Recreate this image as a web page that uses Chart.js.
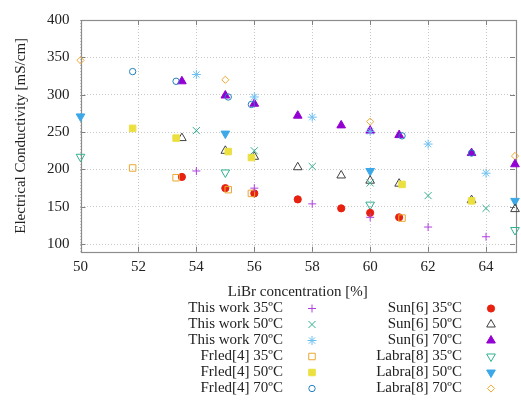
<!DOCTYPE html>
<html>
<head>
<meta charset="utf-8">
<script src="https://cdn.jsdelivr.net/npm/chart.js@4"></script>
<style>
html,body{margin:0;padding:0;background:#fff;}
#wrap{width:521px;height:401px;}
</style>
</head>
<body>
<div id="wrap"><canvas id="c" width="521" height="401"></canvas></div>
<script>
// ---- data ----
const xTicks = [50, 52, 54, 56, 58, 60, 62, 64];
const yTicks = [100, 150, 200, 250, 300, 350, 400];

const thisWork35 = [[54,198],[56,175],[58,154],[60,136],[62,123],[64,110]];
const thisWork50 = [[54,252],[56,225],[58,204],[60,182],[62,165],[64,148]];
const thisWork70 = [[54,327],[56,297],[58,270],[60,251],[62,234],[64,195]];
const frled35 = [[51.8,202],[53.3,189],[55.1,173],[55.9,168],[61.1,135]];
const frled50 = [[51.8,255],[53.3,242],[55.1,224],[55.9,216],[61.1,180],[63.5,158]];
const frled70 = [[51.8,331],[53.3,318],[55.1,297],[55.9,287],[61.1,245],[63.5,222]];
const sun35 = [[53.5,190],[55,175],[56,168],[57.5,160],[59,148],[60,142],[61,136]];
const sun50 = [[53.5,242],[55,225],[56,217],[57.5,203],[59,192],[60,185],[61,181],[63.5,159],[65,147]];
const sun70 = [[53.5,318],[55,299],[56,288],[57.5,272],[59,259],[60,252],[61,246],[63.5,222],[65,207]];
const labra35 = [[50,217],[55,196],[60,153],[65,119]];
const labra50 = [[50,271],[55,248],[60,198],[65,158]];
const labra70 = [[50,346],[55,320],[60,264],[65,218]];

const seriesLabels = [
  'This work 35ºC','This work 50ºC','This work 70ºC',
  'Frled[4] 35ºC','Frled[4] 50ºC','Frled[4] 70ºC',
  'Sun[6] 35ºC','Sun[6] 50ºC','Sun[6] 70ºC',
  'Labra[8] 35ºC','Labra[8] 50ºC','Labra[8] 70ºC'
];
const seriesData = [thisWork35, thisWork50, thisWork70, frled35, frled50, frled70,
  sun35, sun50, sun70, labra35, labra50, labra70];

// ---- styles ----
const styles = [
  {c:'#b040e0', s:'cross', r:4, fill:false},
  {c:'#30b090', s:'crossRot', r:5, fill:false},
  {c:'#6cc0f0', s:'star', r:4.5, fill:false},
  {c:'#eca830', s:'rect', r:4.6, fill:false},
  {c:'#ece040', s:'rect', r:4.6, fill:true},
  {c:'#2080c0', s:'circle', r:3.2, fill:false},
  {c:'#e82010', s:'circle', r:3.6, fill:true},
  {c:'#404040', s:'triangle', r:5, fill:false},
  {c:'#9400d3', s:'triangle', r:5, fill:true},
  {c:'#30b090', s:'triangle', r:5, fill:false, rot:180},
  {c:'#3ca8e8', s:'triangle', r:5, fill:true, rot:180},
  {c:'#eca830', s:'rectRot', r:3.6, fill:false}
];

const datasets = seriesData.map((d, i) => {
  const st = styles[i];
  return {
    label: seriesLabels[i],
    data: d.map(p => ({x: p[0], y: p[1]})),
    pointStyle: st.s,
    pointRadius: st.r,
    pointHoverRadius: st.r,
    pointRotation: st.rot || 0,
    borderColor: st.c,
    backgroundColor: st.fill ? st.c : 'rgba(0,0,0,0)',
    borderWidth: 1,
    showLine: false,
    clip: false
  };
});

const FONT = 'Liberation Serif';

const framePlugin = {
  id: 'frame',
  beforeDatasetsDraw(chart) {
    const {ctx, chartArea: a, scales} = chart;
    ctx.save();
    ctx.strokeStyle = '#808080';
    ctx.lineWidth = 1;
    ctx.beginPath();
    // inward tick marks
    xTicks.forEach(v => {
      const x = Math.round(scales.x.getPixelForValue(v)) + 0.5;
      ctx.moveTo(x, a.bottom); ctx.lineTo(x, a.bottom - 5);
      ctx.moveTo(x, a.top); ctx.lineTo(x, a.top + 5);
    });
    yTicks.forEach(v => {
      const y = Math.round(scales.y.getPixelForValue(v)) + 0.5;
      ctx.moveTo(a.left, y); ctx.lineTo(a.left + 5, y);
      ctx.moveTo(a.right, y); ctx.lineTo(a.right - 5, y);
    });
    ctx.stroke();
    ctx.strokeStyle = '#8c8c8c';
    ctx.lineWidth = 1.2;
    ctx.strokeRect(Math.round(a.left) + 0.5, Math.round(a.top) + 0.5,
      Math.round(a.right - a.left), Math.round(a.bottom - a.top));
    ctx.restore();
  },
  afterDraw(chart) {
    const {ctx} = chart;
    ctx.save();
    ctx.font = '15px "' + FONT + '"';
    ctx.fillStyle = '#222';
    ctx.textAlign = 'right';
    ctx.textBaseline = 'middle';
    const colTextX = [283, 462];
    const colMarkX = [312, 491];
    const rowY0 = 308.5, rowDy = 16;
    chart.data.datasets.forEach((ds, i) => {
      const col = Math.floor(i / 6), row = i % 6;
      const y = rowY0 + row * rowDy;
      ctx.fillText(ds.label, colTextX[col], y);
      ctx.save();
      ctx.strokeStyle = ds.borderColor;
      ctx.fillStyle = ds.backgroundColor;
      ctx.lineWidth = 1;
      Chart.helpers.drawPoint(ctx, {pointStyle: ds.pointStyle, radius: ds.pointRadius, rotation: ds.pointRotation, borderWidth: 1}, colMarkX[col], y);
      ctx.restore();
    });
    ctx.restore();
  }
};

new Chart(document.getElementById('c'), {
  type: 'scatter',
  data: {datasets},
  plugins: [framePlugin],
  options: {
    responsive: false,
    animation: false,
    events: [],
    layout: {padding: {left: 0, right: 3.5, top: 17, bottom: 97}},
    plugins: {legend: {display: false}, tooltip: {enabled: false}},
    scales: {
      x: {
        type: 'linear', min: 50, max: 65,
        afterBuildTicks(s) { s.ticks = xTicks.map(v => ({value: v})); },
        afterFit(s) { s.height = 52.3; },
        grid: {color: '#c8c8c8', lineWidth: 1, drawTicks: false},
        border: {display: false, dash: [1, 2]},
        ticks: {padding: 6, color: '#222', font: {family: FONT, size: 15}, maxRotation: 0, autoSkip: false},
        title: {display: true, text: 'LiBr concentration [%]', color: '#222', font: {family: FONT, size: 15}, padding: {top: 2, bottom: 3}}
      },
      y: {
        type: 'linear', min: 90, max: 400,
        afterBuildTicks(s) { s.ticks = yTicks.map(v => ({value: v})); },
        afterFit(s) { s.width = 80.5; },
        grid: {color: '#c8c8c8', lineWidth: 1, drawTicks: false},
        border: {display: false, dash: [1, 2]},
        ticks: {padding: 11, color: '#222', font: {family: FONT, size: 15}, autoSkip: false},
        title: {display: true, text: 'Electrical Conductivity [mS/cm]', color: '#222', font: {family: FONT, size: 15}, padding: {top: 12, bottom: 4}}
      }
    }
  }
});
</script>
</body>
</html>
